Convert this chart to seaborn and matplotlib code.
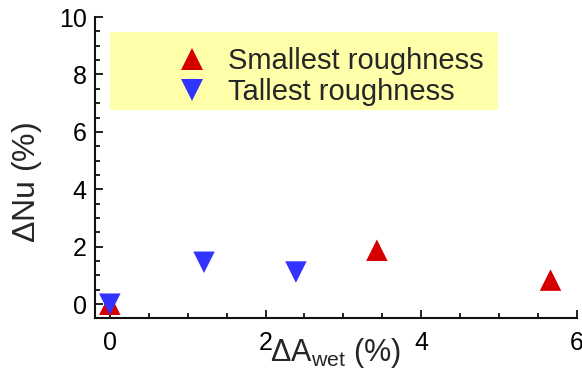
import matplotlib
matplotlib.use("Agg")
import matplotlib.pyplot as plt
import seaborn as sns
import pandas as pd
from matplotlib.patches import Rectangle
from matplotlib.ticker import MultipleLocator

# data
small_x = [0.0, 3.43, 5.66]
small_y = [0.0, 1.88, 0.84]
tall_x = [0.0, 1.21, 2.39]
tall_y = [0.0, 1.46, 1.12]
series_names = ["Smallest roughness", "Tallest roughness"]
x_ticks = [0, 2, 4, 6]
y_ticks = [0, 2, 4, 6, 8, 10]

df = pd.DataFrame({
    "x": small_x + tall_x,
    "y": small_y + tall_y,
    "series": [series_names[0]] * len(small_x) + [series_names[1]] * len(tall_x),
})

sns.set_style("ticks")
plt.rcParams["font.family"] = ["Liberation Sans", "DejaVu Sans"]
plt.rcParams["mathtext.fontset"] = "custom"
plt.rcParams["mathtext.rm"] = "Liberation Sans"
plt.rcParams["mathtext.it"] = "Liberation Sans"

fig = plt.figure(figsize=(5.82, 3.8), dpi=100)
ax = fig.add_axes([95 / 582, 1 - 318 / 380, 482 / 582, 301 / 380])

sns.scatterplot(data=df, x="x", y="y", hue="series", style="series",
                palette={series_names[0]: "#D40000", series_names[1]: "#3333FF"},
                markers={series_names[0]: "^", series_names[1]: "v"},
                s=240, linewidth=0, ax=ax, zorder=3)

ax.set_xlim(-0.19, 6)
ax.set_ylim(-0.48, 10)
ax.set_xticks(x_ticks)
ax.set_yticks(y_ticks)
ax.xaxis.set_minor_locator(MultipleLocator(0.5))
ax.yaxis.set_minor_locator(MultipleLocator(0.5))
ax.tick_params(which="both", direction="in", width=1.3, colors="#111111",
               labelcolor="black", labelsize=18)
ax.tick_params(which="major", length=6, pad=6)
ax.tick_params(which="minor", length=3.5)
ax.tick_params(axis="x", pad=9)
for side in ["left", "bottom"]:
    ax.spines[side].set_linewidth(1.5)
    ax.spines[side].set_color("#111111")
for side in ["top", "right"]:
    ax.spines[side].set_visible(False)

ax.set_xlabel(r"$\Delta$A$_{\rm wet}$ (%)", fontsize=22)
ax.set_ylabel(r"$\Delta$Nu (%)", fontsize=23)
ax.xaxis.set_label_coords(0.5, -0.06)
ax.yaxis.set_label_coords(-0.105, 0.45)

ax.add_patch(Rectangle((0.031, 0.691), 0.805, 0.259, transform=ax.transAxes,
                       facecolor="#FFFFAA", edgecolor="none", zorder=1))

handles, labels = ax.get_legend_handles_labels()
leg = ax.legend(handles, labels, loc="upper left", bbox_to_anchor=(0.17, 0.90),
                frameon=False, fontsize=21, handlelength=1.0, handletextpad=0.75,
                borderpad=0, borderaxespad=0, labelspacing=0.1, markerscale=1.0)
leg.set_zorder(4)

fig.savefig("out.png", dpi=100)
